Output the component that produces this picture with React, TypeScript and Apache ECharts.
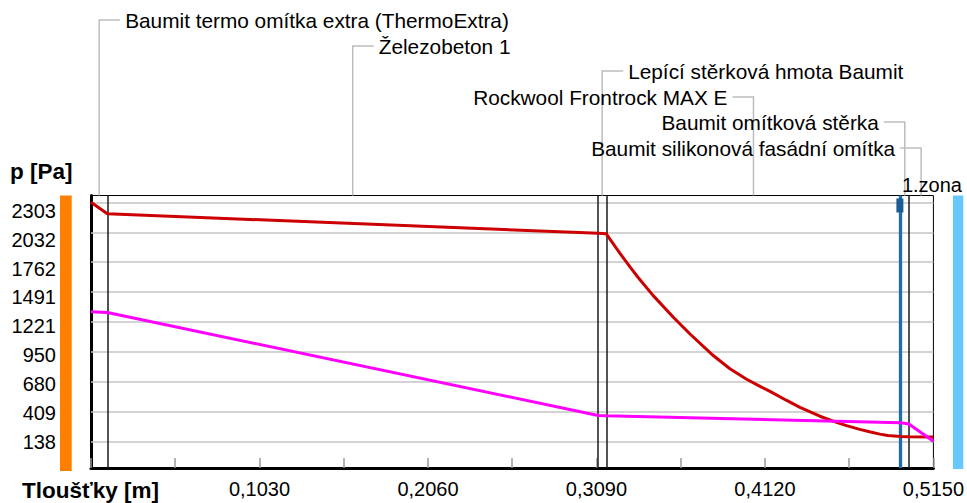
import React, { useEffect, useRef } from "react";
import * as echarts from "echarts";

// ---- data ----
const layerNames = [
  "Baumit termo omítka extra (ThermoExtra)",
  "Železobeton 1",
  "Lepící stěrková hmota Baumit",
  "Rockwool Frontrock MAX E",
  "Baumit omítková stěrka",
  "Baumit silikonová fasádní omítka",
];
const layerBounds = [0, 0.01, 0.31, 0.315, 0.495, 0.5, 0.515];
const yTickLabels = [138, 409, 680, 950, 1221, 1491, 1762, 2032, 2303];
const xTickStep = 0.0515;

// saturated vapour pressure (red)
const satX = [0, 0.01, 0.31, 0.315, 0.3234, 0.3295, 0.3346, 0.3437, 0.356, 0.3662, 0.3804, 0.3906, 0.4008, 0.409, 0.4151, 0.4253, 0.4334, 0.4456, 0.4558, 0.4619, 0.47, 0.4765, 0.4823, 0.487, 0.495, 0.5, 0.515];
const satP = [2303, 2200, 2022, 2018, 1840, 1718, 1620, 1458, 1262, 1110, 915, 795, 700, 635, 590, 508, 446, 365, 310, 280, 246, 222, 203, 190, 181, 180, 178];

// partial vapour pressure (magenta)
const parX = [0, 0.01, 0.31, 0.315, 0.495, 0.5, 0.515];
const parP = [1312, 1305, 372, 370, 305, 295, 138];

const zoneX = 0.4945;
const zoneLabel = "1.zona";
const yTitle = "p [Pa]";
const xTitle = "Tloušťky [m]";

// ---- layout / style ----
const FONT = '"Liberation Sans", Arial, sans-serif';
const labelRowY = [20, 46, 71, 97, 122, 148];
const labelSide = ["right", "right", "right", "left", "left", "left"];

export default function App() {
  const ref = useRef<HTMLDivElement>(null);

  useEffect(() => {
    if (!ref.current) return;
    const chart = echarts.init(ref.current, null, { renderer: "svg" });

    const markBase = {
      silent: true,
      symbol: "none",
      precision: 6,
      label: { show: false },
    };

    const option: any = {
      animation: false,
      backgroundColor: "#fff",
      textStyle: { fontFamily: FONT },
      grid: [
        {
          left: 91,
          right: 33.5,
          top: 195.5,
          bottom: 35,
          show: true,
          borderColor: "#000",
          borderWidth: 1,
          containLabel: false,
        },
        {
          // grid carrying the y tick labels (software lays them out evenly)
          left: 91,
          right: 33.5,
          top: 210.8,
          bottom: 61.3,
          show: false,
          containLabel: false,
        },
      ],
      xAxis: [
        {
          type: "value",
          gridIndex: 0,
          min: 0,
          max: 0.515,
          interval: xTickStep,
          axisLine: { onZero: false, lineStyle: { color: "#000", width: 3 } },
          axisTick: { inside: true, length: 10, lineStyle: { color: "#9a9a9a", width: 1.5 } },
          splitLine: { show: false },
          axisLabel: {
            fontSize: 20,
            color: "#000",
            margin: 11,
            fontFamily: FONT,
            formatter: (v: number) => {
              const k = Math.round(v / xTickStep);
              if (k === 0 || k % 2 !== 0) return "";
              return v.toFixed(4).replace(".", ",");
            },
          },
        },
        {
          type: "value",
          gridIndex: 1,
          min: 0,
          max: 1,
          show: false,
        },
      ],
      yAxis: [
        {
          type: "value",
          gridIndex: 0,
          position: "left",
          min: -104,
          max: 2365,
          axisLine: { show: true, onZero: false, lineStyle: { color: "#000", width: 3 } },
          axisTick: { show: false },
          axisLabel: { show: false },
          splitLine: { show: false },
        },
        {
          type: "value",
          gridIndex: 1,
          position: "left",
          min: 0,
          max: yTickLabels.length - 1,
          interval: 1,
          axisLine: { show: false, onZero: false },
          axisTick: { show: false },
          splitLine: { show: false },
          axisLabel: {
            fontSize: 20,
            color: "#000",
            margin: 35,
            fontFamily: FONT,
            formatter: (v: number) => {
              const k = Math.round(v);
              if (Math.abs(v - k) > 1e-6 || yTickLabels[k] === undefined) return "";
              return String(yTickLabels[k]);
            },
          },
        },
      ],
      series: [
        {
          type: "line",
          name: "grid",
          data: [],
          silent: true,
          markLine: {
            ...markBase,
            lineStyle: { color: "#c4c4c4", width: 1.6, type: "solid" },
            data: yTickLabels.map((v) => ({ yAxis: v })),
          },
        },
        {
          type: "line",
          name: "bounds",
          data: [],
          silent: true,
          markLine: {
            ...markBase,
            lineStyle: { color: "#1a1a1a", width: 1.5, type: "solid" },
            data: layerBounds.slice(1, -1).map((v) => ({ xAxis: v })),
          },
        },
        {
          type: "line",
          name: "zone",
          data: [],
          silent: true,
          markLine: {
            ...markBase,
            lineStyle: { color: "#1f6dab", width: 3.3, type: "solid" },
            data: [{ xAxis: zoneX }],
          },
        },
        {
          type: "line",
          name: "p_sat",
          z: 10,
          symbol: "none",
          lineStyle: { color: "#cc0000", width: 3 },
          data: satX.map((x, i) => [x, satP[i]]),
        },
        {
          type: "line",
          name: "p",
          z: 10,
          symbol: "none",
          lineStyle: { color: "#ff00ff", width: 3 },
          data: parX.map((x, i) => [x, parP[i]]),
        },
      ],
    };
    chart.setOption(option);

    const px = (x: number) => chart.convertToPixel({ xAxisIndex: 0 }, x) as number;
    const py = (y: number) => chart.convertToPixel({ yAxisIndex: 0 }, y) as number;
    const top = py(2365);
    const bottom = py(-104);

    const elements: any[] = [];
    elements.push({
      type: "rect",
      shape: { x: 60, y: top, width: 11.7, height: bottom - top + 3 },
      style: { fill: "#ff8000" },
    });
    elements.push({
      type: "rect",
      shape: { x: 953, y: top, width: 10.3, height: bottom - top + 1 },
      style: { fill: "#66c8ff" },
    });
    elements.push({
      type: "text",
      x: 10,
      y: 171,
      style: { text: yTitle, fontSize: 22.5, fontWeight: "bold", fontFamily: FONT, fill: "#000", align: "left", verticalAlign: "middle" },
    });
    elements.push({
      type: "text",
      x: 22,
      y: 490,
      style: { text: xTitle, fontSize: 22.5, fontWeight: "bold", fontFamily: FONT, fill: "#000", align: "left", verticalAlign: "middle" },
    });
    layerNames.forEach((name, i) => {
      const cx = px((layerBounds[i] + layerBounds[i + 1]) / 2);
      const ry = labelRowY[i];
      const dir = labelSide[i] === "right" ? 1 : -1;
      elements.push({
        type: "polyline",
        shape: { points: [[cx, top], [cx, ry], [cx + dir * 21, ry]] },
        style: { stroke: "#bdbdbd", lineWidth: 1.5, fill: null },
      });
      elements.push({
        type: "text",
        x: cx + dir * 26,
        y: ry,
        style: {
          text: name,
          fontSize: 20.8,
          fontFamily: FONT,
          fill: "#000",
          align: dir > 0 ? "left" : "right",
          verticalAlign: "middle",
        },
      });
    });
    const zx = px(zoneX);
    elements.push({
      type: "rect",
      shape: { x: zx - 3.5, y: top + 3, width: 7, height: 14 },
      style: { fill: "#1a5c96" },
      z: 100,
    });
    elements.push({
      type: "text",
      x: zx + 2,
      y: 185,
      style: { text: zoneLabel, fontSize: 20, fontFamily: FONT, fill: "#000", align: "left", verticalAlign: "middle" },
      z: 100,
    });

    chart.setOption({ graphic: { elements } });

    return () => chart.dispose();
  }, []);

  return (
    <div
      ref={ref}
      style={{ position: "fixed", left: 0, top: 0, width: 967, height: 503, background: "#fff" }}
    />
  );
}
